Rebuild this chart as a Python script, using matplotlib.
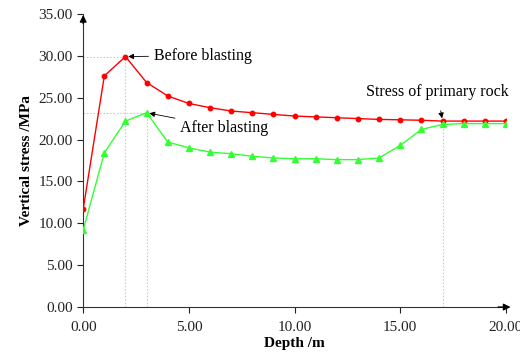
import matplotlib
matplotlib.use("Agg")
import matplotlib.pyplot as plt
import numpy as np

plt.rcParams['font.family'] = ['Liberation Serif', 'DejaVu Serif']

depth = list(range(21))
before = [11.7, 27.6, 29.9, 26.8, 25.2, 24.3, 23.8, 23.4, 23.2, 23.0, 22.8,
          22.7, 22.6, 22.5, 22.4, 22.35, 22.3, 22.2, 22.2, 22.2, 22.2]
after = [9.2, 18.4, 22.2, 23.2, 19.7, 19.0, 18.5, 18.3, 18.0, 17.8, 17.7,
         17.7, 17.6, 17.6, 17.8, 19.3, 21.2, 21.8, 21.9, 21.9, 21.9]
xticks = [0, 5, 10, 15, 20]
yticks = [0, 5, 10, 15, 20, 25, 30, 35]

fig = plt.figure(figsize=(5.2, 3.55), dpi=100)
ax = fig.add_axes([0.16, 0.135, 0.813, 0.826])

guide = dict(color='#a8d8e8', lw=0.8, ls=(0, (1.5, 1.5)), zorder=1)
ax.plot([0, 2], [before[2], before[2]], **guide)
ax.plot([2, 2], [0, before[2]], **guide)
ax.plot([0, 3], [after[3], after[3]], **guide)
ax.plot([3, 3], [0, after[3]], **guide)
ax.plot([17, 17], [0, before[17]], **guide)

ax.plot(depth, before, color='#ff0000', lw=1.0, marker='o', ms=3.2, zorder=3)
ax.plot(depth, after, color='#33ff33', lw=1.0, marker='^', ms=3.8, zorder=3)

ax.set_xlim(0, 20)
ax.set_ylim(0, 35)
ax.set_xticks(xticks)
ax.set_xticklabels([f"{v:.2f}" for v in xticks])
ax.set_yticks(yticks)
ax.set_yticklabels([f"{v:.2f}" for v in yticks])
for s in ['top', 'right']:
    ax.spines[s].set_visible(False)
for s in ['left', 'bottom']:
    ax.spines[s].set_color('#333333')
ax.tick_params(axis='both', labelsize=11, colors='#222222', direction='out', length=4)
ax.tick_params(axis='x', pad=6)

# axis arrows
ax.annotate('', xy=(0, 35.2), xytext=(0, 33.5), xycoords='data',
            arrowprops=dict(arrowstyle='-|>', color='black', lw=1, mutation_scale=10),
            annotation_clip=False)
ax.annotate('', xy=(20.35, 0), xytext=(19.5, 0), xycoords='data',
            arrowprops=dict(arrowstyle='-|>', color='black', lw=1, mutation_scale=10),
            annotation_clip=False)

ax.set_xlabel('Depth /m', fontsize=11, fontweight='bold', labelpad=2)
ax.set_ylabel('Vertical stress /MPa', fontsize=11, fontweight='bold', labelpad=4)

arr = dict(arrowstyle='-|>', color='black', lw=0.6, mutation_scale=8)
ax.annotate('Before blasting', xy=(2, before[2]), xytext=(3.35, 30.0),
            fontsize=11.5, va='center', ha='left', arrowprops=arr)
ax.annotate('After blasting', xy=(3, after[3]), xytext=(4.6, 21.4),
            fontsize=11.5, va='center', ha='left', arrowprops=arr)
ax.annotate('Stress of primary rock', xy=(17, before[17]), xytext=(16.75, 25.7),
            fontsize=11.5, va='center', ha='center',
            arrowprops=dict(arrowstyle='-|>', color='black', lw=0.6, mutation_scale=8,
                            shrinkA=6))

fig.savefig('out.png', dpi=100)
